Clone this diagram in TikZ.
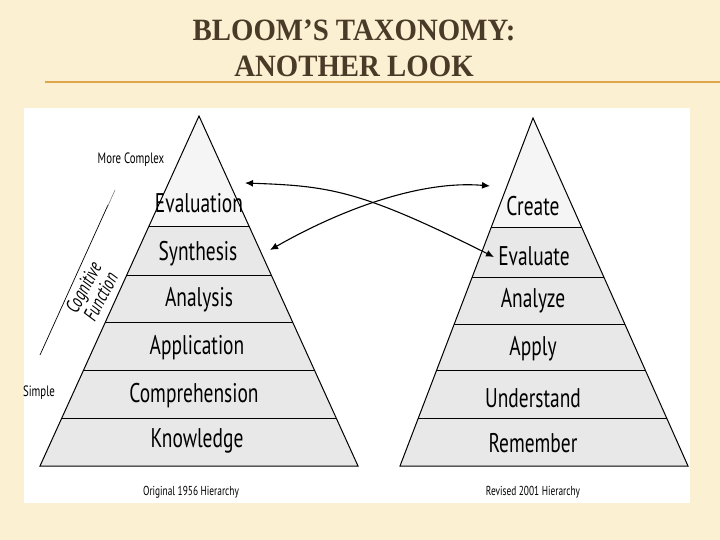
\documentclass[tikz,border=0pt]{standalone}
\usepackage{fontspec}
\setmainfont{Liberation Serif}
\newfontfamily\lab[FakeStretch=0.72]{PT Sans}
\newfontfamily\tit[FakeStretch=0.93]{Liberation Serif}
\usetikzlibrary{arrows.meta}
\definecolor{bgc}{HTML}{FBF0D2}
\definecolor{titc}{HTML}{4A3A28}
\definecolor{linec}{HTML}{E0A54A}
\tikzset{x=1pt,y=-1pt,
 lvl/.style={font=\lab\fontsize{27}{27}\selectfont, inner sep=0pt},
 small/.style={font=\lab\fontsize{13}{13}\selectfont, inner sep=0pt},
 arr/.style={{Latex[length=8pt,width=7pt]}-{Latex[length=8pt,width=7pt]}, line width=1.1pt}}
\begin{document}
\begin{tikzpicture}
\useasboundingbox (0,0) rectangle (720,540);
\fill[bgc] (0,0) rectangle (720,540);
\draw[linec, line width=1.2pt] (45,82) -- (720,82);
\node[font=\tit\bfseries\fontsize{31}{36}\selectfont, text=titc, align=center] (title) at (354,48) {BLOOM’S TAXONOMY:\\ANOTHER LOOK};
\fill[white] (24,108) rectangle (690,503);
% left pyramid
\fill[black!9] (199,116) -- (358,466) -- (40,466) -- cycle;
\fill[black!4] (199,116) -- ({199+111/350*159},227) -- ({199-111/350*159},227) -- cycle;
\foreach \y in {227,275,322,370,418}
  \draw[line width=1pt] ({199-(\y-116)/350*159},\y) -- ({199+(\y-116)/350*159},\y);
\draw[line width=1pt] (199,116) -- (358,466) -- (40,466) -- cycle;
% right pyramid
\fill[black!9] (533,118) -- (688,466) -- (400,466) -- cycle;
\fill[black!4] (533,118) -- ({533+110/348*155},228) -- ({533-110/348*133},228) -- cycle;
\foreach \y in {228,277,324,370,418}
  \draw[line width=1pt] ({533-(\y-118)/348*133},\y) -- ({533+(\y-118)/348*155},\y);
\draw[line width=1pt] (533,118) -- (688,466) -- (400,466) -- cycle;
% labels
\node[lvl] (l1) at (199,203) {Evaluation};
\node[lvl] (l2) at (198,254) {Synthesis};
\node[lvl] (l3) at (199,300) {Analysis};
\node[lvl] (l4) at (197,348) {Application};
\node[lvl] (l5) at (194,396) {Comprehension};
\node[lvl] (l6) at (197,441) {Knowledge};
\node[lvl] (r1) at (533,206) {Create};
\node[lvl] (r2) at (534,256) {Evaluate};
\node[lvl] (r3) at (533,301) {Analyze};
\node[lvl] (r4) at (533,349) {Apply};
\node[lvl] (r5) at (533,398) {Understand};
\node[lvl] (r6) at (533,443) {Remember};
\node[small] (c1) at (191,492) {Original 1956 Hierarchy};
\node[small] (c2) at (533,492) {Revised 2001 Hierarchy};
\node[small,font=\lab\fontsize{15}{15}\selectfont] (mc) at (131,160) {More Complex};
\node[small,font=\lab\fontsize{15}{15}\selectfont] (sp) at (39,393) {Simple};
% cognitive function
\coordinate (cb) at (40,355);
\coordinate (ct) at (108,205);
\draw[line width=0.7pt] (cb) -- (ct);
\draw[line width=0.5pt, black!60] (107,208) -- (115,190);
\node[rotate=62, font=\lab\itshape\fontsize{20}{17}\selectfont, align=center, inner sep=0pt] (cf) at (92,292) {Cognitive\\Function};
% arrows
\coordinate (a1) at (245,183);
\coordinate (a2) at (270,250);
\coordinate (b1) at (490,186);
\coordinate (b2) at (494,257);
\draw[arr] (a1) .. controls (330,186) and (360,190) .. (b2);
\draw[arr] (a2) .. controls (340,210) and (420,180) .. (b1);
\end{tikzpicture}
\end{document}
